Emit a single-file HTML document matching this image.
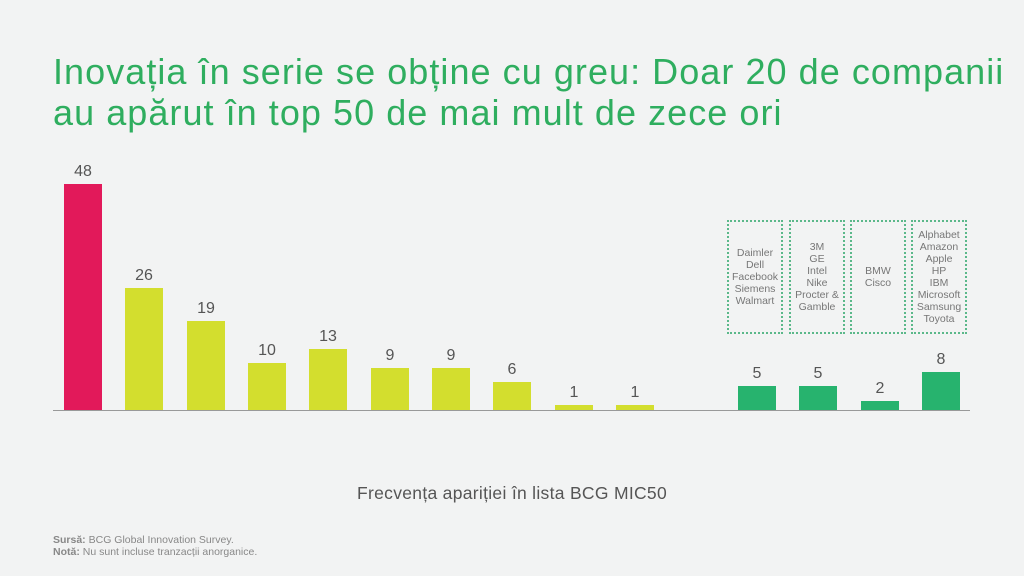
<!DOCTYPE html>
<html><head><meta charset="utf-8"><style>
body{margin:0;width:1024px;height:576px;background:#f2f3f3;font-family:"Liberation Sans","DejaVu Sans",sans-serif;position:relative;overflow:hidden}
.t{position:absolute;left:53px;top:51px;font-size:36px;line-height:41px;color:#2fae5f;letter-spacing:1.05px;white-space:nowrap}
.b{position:absolute;width:38px}
.l{position:absolute;width:60px;text-align:center;font-size:16px;color:#555}
.bx{position:absolute;top:220px;height:114px;width:56px;border:2px dotted #5bb88a;box-sizing:border-box;font-size:10.5px;line-height:12px;color:#777;text-align:center;display:flex;align-items:center;justify-content:center}
.ax{position:absolute;left:53px;top:410px;width:917px;height:1px;background:#999}
.x{position:absolute;top:483px;left:0;width:1024px;text-align:center;font-size:17.5px;color:#555;letter-spacing:0.3px}
.s{position:absolute;left:53px;top:534px;font-size:10.5px;line-height:12px;color:#888}
</style></head><body>
<div class="t">Inovația în serie se obține cu greu: Doar 20 de companii<br>au apărut în top 50 de mai mult de zece ori</div>
<div class="ax"></div>
<div id="c"></div>
<div class="bx" style="left:727px">Daimler<br>Dell<br>Facebook<br>Siemens<br>Walmart</div>
<div class="bx" style="left:789px">3M<br>GE<br>Intel<br>Nike<br>Procter &amp;<br>Gamble</div>
<div class="bx" style="left:850px">BMW<br>Cisco</div>
<div class="bx" style="left:911px">Alphabet<br>Amazon<br>Apple<br>HP<br>IBM<br>Microsoft<br>Samsung<br>Toyota</div>
<div class="x">Frecvența apariției în lista BCG MIC50</div>
<div class="s"><b>Sursă:</b> BCG Global Innovation Survey.<br><b>Notă:</b> Nu sunt incluse tranzacții anorganice.</div>
<script>
var d=[[64,48,'#e2195a'],[125,26],[187,19],[248,10],[309,13],[371,9],[432,9],[493,6],[555,1],[616,1],[738,5,'#27b36e'],[799,5,'#27b36e'],[861,2,'#27b36e'],[922,8,'#27b36e']];
var h='';d.forEach(function(e){var H=e[1]*4.71,c=e[2]||'#d3de2e';
h+='<div class="b" style="left:'+e[0]+'px;top:'+(410-H)+'px;height:'+H+'px;background:'+c+'"></div>';
h+='<div class="l" style="left:'+(e[0]-11)+'px;top:'+(410-H-21)+'px">'+e[1]+'</div>';});
document.getElementById('c').innerHTML=h;
</script>
</body></html>
